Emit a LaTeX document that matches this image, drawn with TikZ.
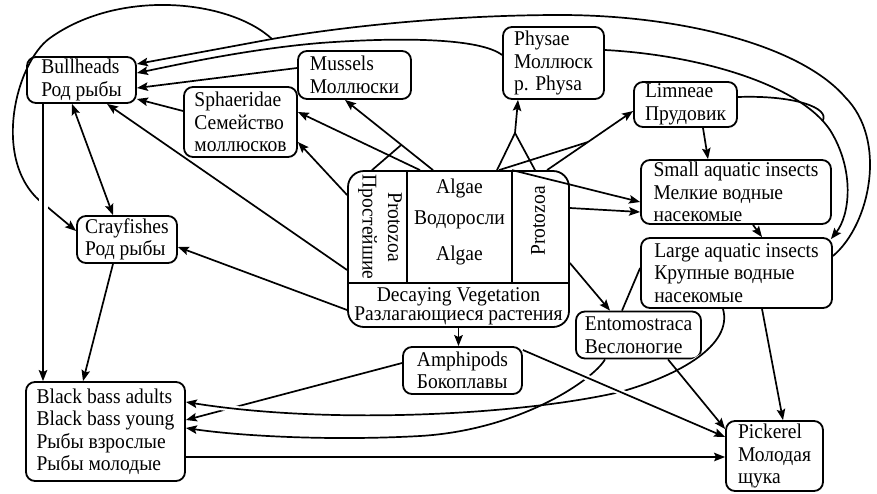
\documentclass[tikz,border=0pt]{standalone}
\usepackage{fontspec}
\setmainfont[FakeStretch=0.93]{Liberation Serif}
\usetikzlibrary{arrows.meta,calc}
\newcommand\tightlines{\lineskiplimit=-10pt\relax\lineskip=0pt\relax}
\begin{document}
\begin{tikzpicture}[x=1pt,y=-1pt,
  every node/.style={font=\fontsize{21}{22.5}\selectfont},
  box/.style={draw,line width=1.8pt,rounded corners=9pt,align=left,inner sep=0pt},
  lbl/.style={inner sep=0pt},
  conn/.style={line width=1.7pt},
  arr/.style={conn,-{Stealth[length=11pt,width=8.5pt,inset=2pt]}},
  darr/.style={conn,{Stealth[length=11pt,width=8.5pt,inset=2pt]}-{Stealth[length=11pt,width=8.5pt,inset=2pt]}},
  halo/.style={preaction={draw=white,line width=#1,-,shorten <=12pt,shorten >=12pt}},
  halo/.default=6pt,
]
\useasboundingbox (0,0) rectangle (877,493);

% ---- organisms ----
\node[box,minimum width=109pt,minimum height=46pt] (bull) at (81.5,80) {Bullheads\\Род рыбы};
\node[box,minimum width=113pt,minimum height=70pt] (sph) at (240.5,122) {Sphaeridae\\Семейство\\моллюсков};
\node[box,minimum width=113pt,minimum height=48pt] (mus) at (354.5,75) {Mussels\\Моллюски};
\node[box,minimum width=101pt,minimum height=72pt] (phy) at (553.5,63) {Physae\\Моллюск\\р. Physa};
\node[box,minimum width=103pt,minimum height=45pt] (lim) at (685.5,104.5) {Limneae\\Прудовик};
\node[box,minimum width=190pt,minimum height=64pt] (sma) at (736,192) {Small aquatic insects\\Мелкие водные\\насекомые};
\node[box,minimum width=191pt,minimum height=70pt] (lrg) at (736.5,273) {Large aquatic insects\\Крупные водные\\насекомые};
\node[box,minimum width=125pt,minimum height=47pt] (ent) at (638.5,335) {Entomostraca\\Веслоногие};
\node[box,minimum width=97pt,minimum height=70pt] (pik) at (774.5,456) {Pickerel\\Молодая\\щука};
\node[box,minimum width=159pt,minimum height=99pt] (bass) at (105.5,431.5) {Black bass adults\\Black bass young\\Рыбы взрослые\\Рыбы молодые};
\node[box,minimum width=100pt,minimum height=47pt] (cray) at (127,239.5) {Crayfishes\\Род рыбы};
\node[box,minimum width=119pt,minimum height=47pt] (amph) at (462.5,370.5) {Amphipods\\Бокоплавы};

% ---- central base of the food web ----
\node[draw,line width=1.8pt,rounded corners=16pt,minimum width=221pt,minimum height=156pt,inner sep=0pt] (veg) at (458.5,249) {};
\draw[line width=1.8pt] (veg.west |- 0,283) -- (veg.east |- 0,283);
\draw[line width=1.8pt] (veg.north -| 407,0) -- (407,283);
\draw[line width=1.8pt] (veg.north -| 512,0) -- (512,283);
\node[lbl,rotate=-90,align=center] (pzl) at (380,227) {Protozoa\\[3pt]Простейшие};
\node[lbl,rotate=90] (pzr) at (538,221) {Protozoa};
\node[lbl] (alg1) at (459.5,188) {Algae};
\node[lbl] (alg2) at (459.5,220) {Водоросли};
\node[lbl] (alg3) at (459.5,255) {Algae};
\node[lbl,align=center,font=\fontsize{21}{19}\selectfont\tightlines] (decay) at (458.5,306) {Decaying Vegetation\\Разлагающиеся растения};

% ---- long curves over the top ----
\coordinate (j1) at (272,39);
\draw[arr] (lrg.east |- 0,256) .. controls (870,225) and (888,140) .. (845,97)
  .. controls (800,45) and (680,15) .. (560,15)
  .. controls (450,15) and (340,27) .. (j1) -- (bull.east |- 0,64);
\draw[arr] (j1) .. controls (230,0) and (120,-12) .. (50,38)
  .. controls (15,63) and (-10,165) .. (45,205) -- (cray.west |- 0,231);
\draw[arr] (phy.west |- 0,55) .. controls (480,38) and (400,37) .. (320,43)
  .. controls (250,49) and (185,63) .. (bull.east |- 0,73);
\draw[arr] (phy.east |- 0,50) .. controls (700,55) and (800,85) .. coordinate[pos=0.93] (m4) (830,130)
  .. controls (855,170) and (850,215) .. ($(lrg.north east)+(-2,2)$);
\draw[conn] (lim.east |- 0,97) .. controls (795,95) and (830,108) .. (m4);

% ---- left side ----
\draw[arr,halo=9pt] (bull.south -| 43,0) -- (bass.north -| 43,0);
\draw[darr] (bull.south -| 72,0) -- (cray.north -| 113,0);
\draw[arr] (cray.south -| 113,0) -- (bass.north -| 83,0);
\draw[arr] (mus.west |- 0,68) -- (bull.east |- 0,88);
\draw[arr] (sph.west |- 0,111) -- (bull.east |- 0,99);

% ---- from the central box ----
\draw[arr] (veg.west |- 0,270) -- (bull.south -| 107,0);
\draw[arr] (veg.west |- 0,310) -- (cray.east |- 0,247);
\draw[arr] (veg.west |- 0,195) -- (sph.east |- 0,142);
\draw[arr] (veg.north -| 420,0) -- (sph.east |- 0,112);
\draw[arr] (veg.north -| 433,0) -- coordinate[pos=0.36] (m1) (mus.south -| 345,0);
\draw[conn] (veg.north -| 372,0) -- (m1);
\coordinate (m2) at (515,133);
\draw[conn] (veg.north -| 497,0) -- (m2);
\draw[conn] (veg.north -| 535,0) -- (m2);
\draw[arr] (m2) -- (phy.south -| 518,0);
\coordinate (m3) at (588,142);
\draw[conn] (veg.north -| 499,0) -- (m3);
\draw[conn] (veg.north -| 547,0) -- (m3);
\draw[arr] (m3) -- (lim.west |- 0,111);
\draw[arr] (veg.north -| 512,0) -- (sma.west |- 0,202);
\draw[arr] (veg.east |- 0,208) -- (sma.west |- 0,212);
\draw[arr] (veg.east |- 0,263) -- (ent.north -| 610,0);
\draw[arr] (veg.south) -- (amph.north -| veg.south);

% ---- right side ----
\draw[arr] (lim.south -| 703,0) -- (sma.north -| 708,0);
\draw[arr] (sma.south -| 753,0) -- (lrg.north -| 762,0);
\draw[conn] (lrg.west |- 0,268) -- (ent.north -| 622,0);
\draw[arr] (lrg.south -| 762,0) -- (pik.north -| 783,0);

% ---- lower curves and lines ----
\draw[arr] (amph.west |- 0,363) -- (bass.east |- 0,420);
\draw[arr,halo] (lrg.south -| 723,0) .. controls (733,345) and (680,375) .. (620,392)
  .. controls (520,415) and (330,425) .. (bass.east |- 0,402);
\draw[arr] (ent.south -| 605,0) .. controls (593,380) and (520,430) .. (420,436)
  .. controls (330,441) and (240,436) .. (bass.east |- 0,428);
\draw[arr,halo] (amph.east |- 0,350) -- (pik.west |- 0,437);
\draw[arr] (ent.south -| 668,0) -- (pik.west |- 0,429);
\draw[arr] (bass.east |- 0,457) -- (pik.west |- 0,457);
\end{tikzpicture}
\end{document}
